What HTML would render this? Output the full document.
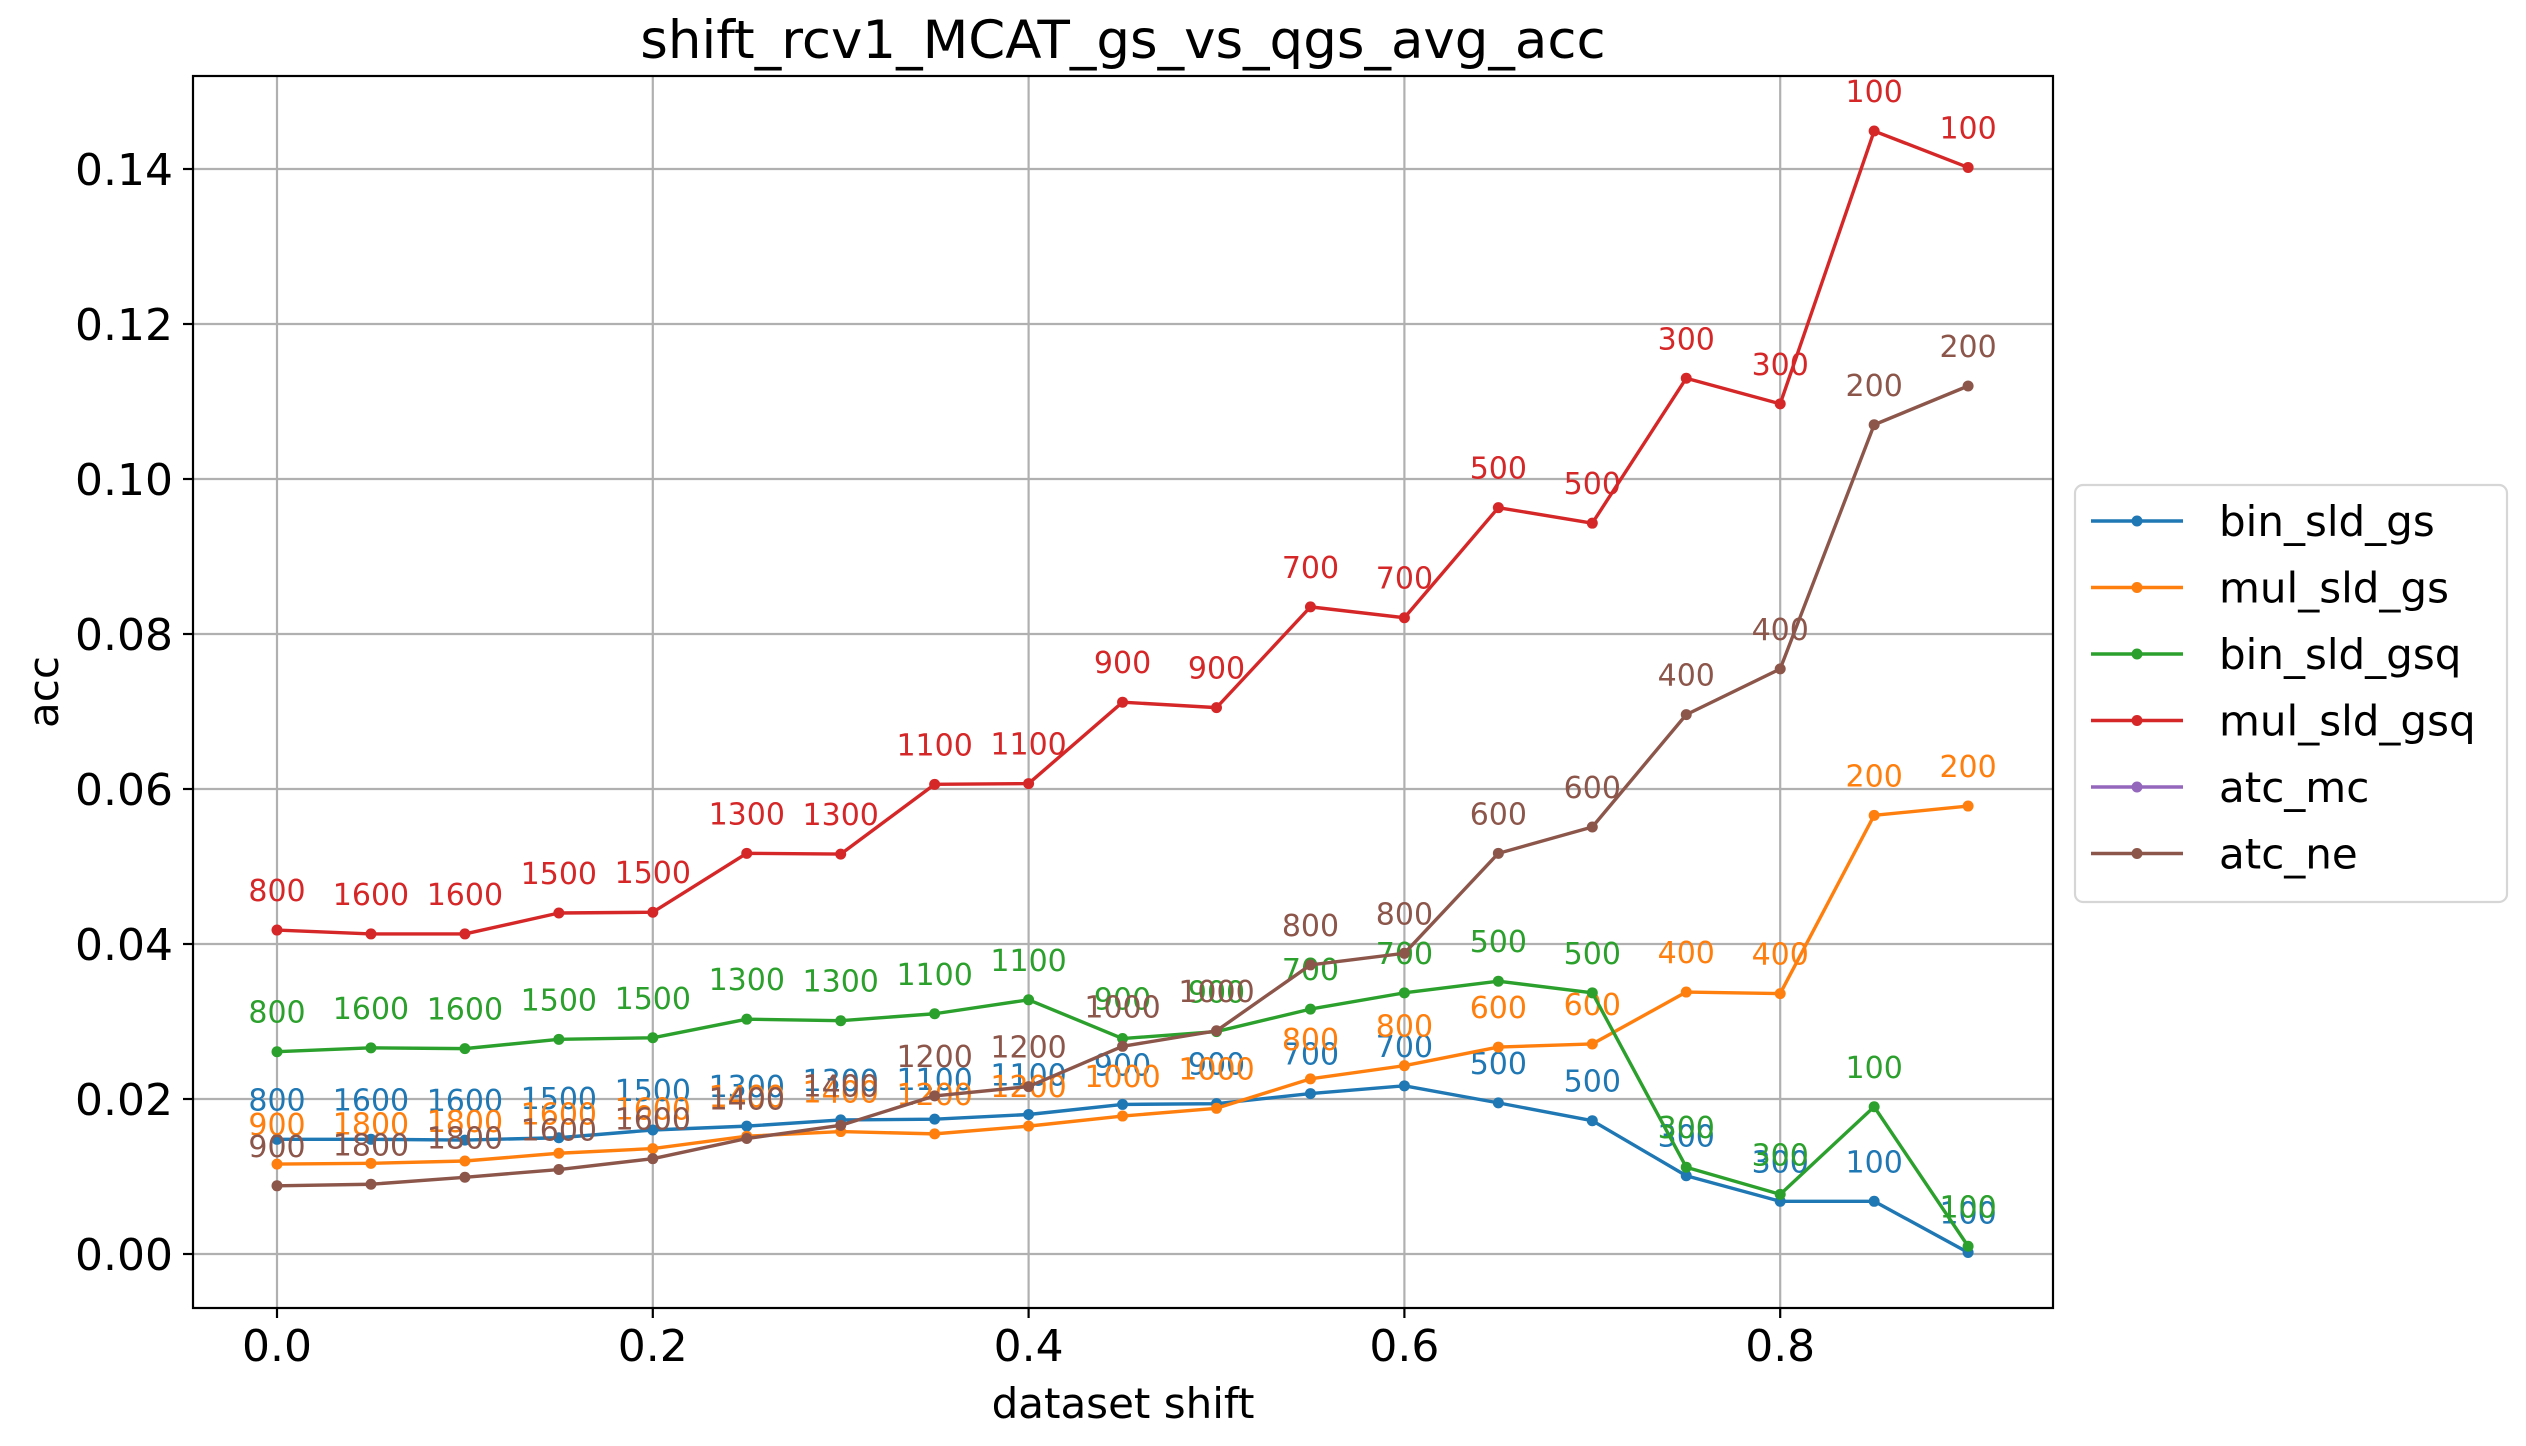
<!DOCTYPE html>
<html><head><meta charset="utf-8"><style>
html,body{margin:0;padding:0;background:#fff;}
svg{display:block;font-family:"DejaVu Sans","Liberation Sans",sans-serif;}
</style></head><body>
<svg id="chart" width="2526" height="1446" viewBox="0 0 2526 1446"></svg>
<script>
const xVals=[0,0.05,0.1,0.15,0.2,0.25,0.3,0.35,0.4,0.45,0.5,0.55,0.6,0.65,0.7,0.75,0.8,0.85,0.9];
const labelsA=[800,1600,1600,1500,1500,1300,1300,1100,1100,900,900,700,700,500,500,300,300,100,100];
const labelsB=[900,1800,1800,1600,1600,1400,1400,1200,1200,1000,1000,800,800,600,600,400,400,200,200];
const binSldGs=[0.0148,0.0148,0.0147,0.0150,0.0160,0.0165,0.0173,0.0174,0.0180,0.0193,0.0194,0.0207,0.0217,0.0195,0.0172,0.0101,0.0068,0.0068,0.0002];
const mulSldGs=[0.0116,0.0117,0.0120,0.0130,0.0136,0.0152,0.0158,0.0155,0.0165,0.0178,0.0188,0.0226,0.0243,0.0267,0.0271,0.0338,0.0336,0.0566,0.0578];
const binSldGsq=[0.0261,0.0266,0.0265,0.0277,0.0279,0.0303,0.0301,0.0310,0.0328,0.0278,0.0287,0.0316,0.0337,0.0352,0.0337,0.0112,0.0077,0.0190,0.0010];
const mulSldGsq=[0.0418,0.0413,0.0413,0.0440,0.0441,0.0517,0.0516,0.0606,0.0607,0.0712,0.0705,0.0835,0.0821,0.0963,0.0943,0.1130,0.1097,0.1449,0.1402];
const atcNe=[0.0088,0.0090,0.0099,0.0109,0.0123,0.0149,0.0166,0.0204,0.0216,0.0268,0.0288,0.0373,0.0388,0.0517,0.0551,0.0696,0.0755,0.1070,0.1120];
const xTicks=[0,0.2,0.4,0.6,0.8];
const xTickLabels=["0.0","0.2","0.4","0.6","0.8"];
const yTicks=[0,0.02,0.04,0.06,0.08,0.10,0.12,0.14];
const yTickLabels=["0.00","0.02","0.04","0.06","0.08","0.10","0.12","0.14"];
const seriesNames=["bin_sld_gs","mul_sld_gs","bin_sld_gsq","mul_sld_gsq","atc_mc","atc_ne"];

const NS="http://www.w3.org/2000/svg";
const svg=document.getElementById('chart');
const L=193,R=2053,T=76,B=1308;
const X=v=>277+v*1879;
const Y=v=>1254-v*7750;
function mk(tag,attrs,parent){const e=document.createElementNS(NS,tag);for(const k in attrs)e.setAttribute(k,attrs[k]);(parent||svg).appendChild(e);return e;}

const grid=mk('g',{});


xTicks.forEach((t,i)=>{
  mk('line',{x1:X(t),x2:X(t),y1:T,y2:B,stroke:'#b0b0b0','stroke-width':2.2},grid);
  mk('line',{x1:X(t),x2:X(t),y1:B,y2:B+10,stroke:'#000','stroke-width':2.2});
  const tx=mk('text',{x:X(t),y:B+53,'font-size':44,'text-anchor':'middle'});
  tx.textContent=xTickLabels[i];
  
  
});
yTicks.forEach((t,i)=>{
  mk('line',{x1:L,x2:R,y1:Y(t),y2:Y(t),stroke:'#b0b0b0','stroke-width':2.2},grid);
  mk('line',{x1:L-10,x2:L,y1:Y(t),y2:Y(t),stroke:'#000','stroke-width':2.2});
  const tx=mk('text',{x:L-20,y:Y(t)+16,'font-size':44,'text-anchor':'end'});
  tx.textContent=yTickLabels[i];
  
  
});

const colors=['#1f77b4','#ff7f0e','#2ca02c','#d62728','#9467bd','#8c564b'];
const data=[binSldGs,mulSldGs,binSldGsq,mulSldGsq,null,atcNe];
const labs=[labelsA,labelsB,labelsA,labelsA,null,labelsB];
data.forEach((d,si)=>{
  if(!d)return;
  const g=mk('g',{});
  
  
  const pts=d.map((v,i)=>X(xVals[i])+','+Y(v)).join(' ');
  mk('polyline',{points:pts,fill:'none',stroke:colors[si],'stroke-width':3.4,'stroke-linejoin':'round'},g);
  d.forEach((v,i)=>{
    const c=mk('circle',{cx:X(xVals[i]),cy:Y(v),r:5.5,fill:colors[si]},g);
    
    
    const t=mk('text',{x:X(xVals[i]),y:Y(v)-29,'font-size':30,'text-anchor':'middle',fill:colors[si]},g);
    t.textContent=labs[si][i];
    
    
  });
});

const frame=mk('rect',{x:L,y:T,width:R-L,height:B-T,fill:'none',stroke:'#000','stroke-width':2.2});



const title=mk('text',{x:(L+R)/2,y:58,'font-size':53,'text-anchor':'middle'});
title.textContent='shift_rcv1_MCAT_gs_vs_qgs_avg_acc';


const xl=mk('text',{x:(L+R)/2,y:1418,'font-size':42,'text-anchor':'middle'});
xl.textContent='dataset shift';


const yl=mk('text',{x:0,y:0,'font-size':42,'text-anchor':'middle',transform:'translate(58,692) rotate(-90)'});
yl.textContent='acc';



const lg=mk('g',{});


mk('rect',{x:2075,y:485,width:432,height:417,rx:8,fill:'#fff',stroke:'#d6d6d6','stroke-width':2.2},lg);
seriesNames.forEach((n,i)=>{
  const cy=521+i*66.5;
  const e=mk('g',{},lg);
  
  
  mk('line',{x1:2091,x2:2183,y1:cy,y2:cy,stroke:colors[i],'stroke-width':3.4},e);
  mk('circle',{cx:2137,cy:cy,r:5.5,fill:colors[i]},e);
  const t=mk('text',{x:2219,y:cy+15,'font-size':42},e);
  t.textContent=n;
});
</script>
</body></html>
